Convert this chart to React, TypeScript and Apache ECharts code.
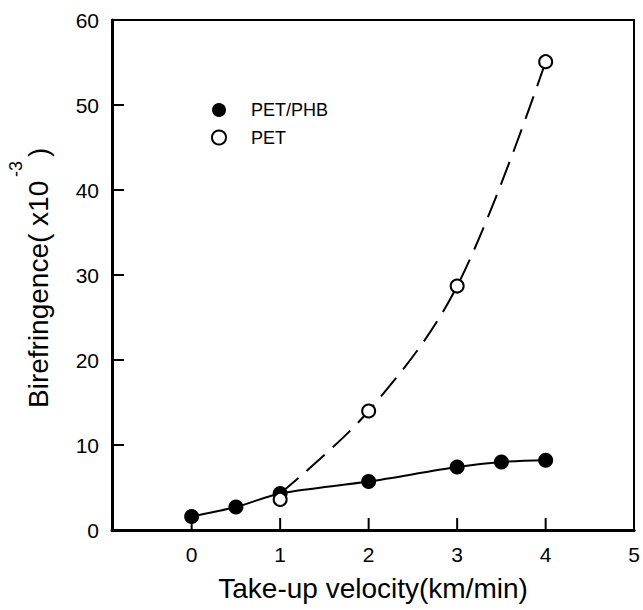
import React, { useEffect, useRef } from "react";
import * as echarts from "echarts";

const FONT = "'Liberation Sans', Arial, Helvetica, sans-serif";

const phbVelocity = [0, 0.5, 1, 2, 3, 3.5, 4];
const phbBiref = [1.6, 2.7, 4.3, 5.7, 7.4, 8.0, 8.2];

const petVelocity = [1, 2, 3, 4];
const petBiref = [3.6, 14.0, 28.7, 55.1];

// dashed fitted curve for PET (starts from the blend point at 1 km/min)
const petFitVelocity = [1, 2, 3, 4];
const petFitBiref = [4.3, 14.0, 28.7, 55.1];

const xLabelValues = [0, 1, 2, 3, 4, 5];
const xTickValues = [0, 1, 2, 3, 4];
const yTickValues = [10, 20, 30, 40, 50];

const pairs = (xs: number[], ys: number[]) => xs.map((x, i) => [x, ys[i]]);

const TICK_LEN = 12;

export default function App() {
  const ref = useRef<HTMLDivElement>(null);
  useEffect(() => {
    if (!ref.current) return;
    const chart = echarts.init(ref.current, undefined, { renderer: "svg" });
    chart.setOption({
      animation: false,
      backgroundColor: "#ffffff",
      grid: {
        left: 112,
        right: 8,
        top: 20,
        bottom: 80,
        show: false,
      },
      legend: {
        data: ["PET/PHB", "PET"],
        orient: "vertical",
        left: 206,
        top: 96,
        icon: "circle",
        itemWidth: 54,
        itemHeight: 14,
        itemGap: 9.5,
        inactiveColor: "#000",
        textStyle: { fontFamily: FONT, fontSize: 18, color: "#000", lineHeight: 14 },
      },
      xAxis: [
        {
          type: "value",
          position: "bottom",
          min: -0.9,
          max: 5,
          name: "Take-up velocity(km/min)",
          nameLocation: "middle",
          nameGap: 44,
          nameTextStyle: { fontFamily: FONT, fontSize: 28, color: "#000" },
          axisLine: { show: true, onZero: false, lineStyle: { color: "#000", width: 3 } },
          axisTick: { show: false },
          axisLabel: {
            customValues: xLabelValues,
            fontFamily: FONT,
            fontSize: 21,
            color: "#000",
            margin: 14,
          },
          splitLine: { show: false },
          z: 5,
        },
        {
          type: "value",
          position: "top",
          min: -0.9,
          max: 5,
          axisLine: { show: true, onZero: false, lineStyle: { color: "#000", width: 2 } },
          axisTick: { show: false },
          axisLabel: { show: false },
          splitLine: { show: false },
        },
      ],
      yAxis: [
        {
          type: "value",
          position: "left",
          min: 0,
          max: 60,
          interval: 10,
          axisLine: { show: true, onZero: false, lineStyle: { color: "#000", width: 3 } },
          axisTick: { show: false },
          axisLabel: { fontFamily: FONT, fontSize: 21, color: "#000", margin: 13 },
          splitLine: { show: false },
          z: 5,
        },
        {
          type: "value",
          position: "right",
          min: 0,
          max: 60,
          interval: 10,
          axisLine: { show: true, onZero: false, lineStyle: { color: "#000", width: 2 } },
          axisTick: { show: false },
          axisLabel: { show: false },
          splitLine: { show: false },
        },
      ],
      graphic: [
        {
          type: "text",
          x: 38,
          y: 408,
          rotation: Math.PI / 2,
          style: {
            text: "Birefringence( x10",
            font: `28px ${FONT}`,
            fill: "#000",
            textAlign: "left",
            textVerticalAlign: "middle",
            align: "left",
            verticalAlign: "middle",
          },
        },
        {
          type: "text",
          x: 16,
          y: 177,
          rotation: Math.PI / 2,
          style: {
            text: "-3",
            font: `18px ${FONT}`,
            fill: "#000",
            textAlign: "left",
            textVerticalAlign: "middle",
            align: "left",
            verticalAlign: "middle",
          },
        },
        {
          type: "text",
          x: 38,
          y: 157,
          rotation: Math.PI / 2,
          style: {
            text: ")",
            font: `28px ${FONT}`,
            fill: "#000",
            textAlign: "left",
            textVerticalAlign: "middle",
            align: "left",
            verticalAlign: "middle",
          },
        },
      ],
      series: [
        {
          name: "y ticks",
          type: "custom",
          coordinateSystem: "cartesian2d",
          xAxisIndex: 0,
          yAxisIndex: 0,
          silent: true,
          clip: false,
          data: yTickValues.map((v) => [0, v]),
          renderItem: (params: any, api: any) => {
            const y = api.coord([0, api.value(1)])[1];
            const x0 = params.coordSys.x;
            return {
              type: "line",
              shape: { x1: x0, y1: y, x2: x0 + TICK_LEN, y2: y },
              style: { stroke: "#000", lineWidth: 2 },
            };
          },
          z: 5,
        },
        {
          name: "x ticks",
          type: "custom",
          coordinateSystem: "cartesian2d",
          xAxisIndex: 0,
          yAxisIndex: 0,
          silent: true,
          clip: false,
          data: xTickValues.map((v) => [v, 0]),
          renderItem: (params: any, api: any) => {
            const x = api.coord([api.value(0), 0])[0];
            const y0 = params.coordSys.y + params.coordSys.height;
            return {
              type: "line",
              shape: { x1: x, y1: y0, x2: x, y2: y0 - TICK_LEN },
              style: { stroke: "#000", lineWidth: 2 },
            };
          },
          z: 5,
        },
        {
          name: "PET/PHB fit",
          type: "line",
          data: pairs(phbVelocity, phbBiref),
          smooth: 0.3,
          showSymbol: false,
          lineStyle: { color: "#000", width: 2 },
          z: 2,
        },
        {
          name: "PET fit",
          type: "line",
          data: pairs(petFitVelocity, petFitBiref),
          smooth: 0.35,
          showSymbol: false,
          lineStyle: { color: "#000", width: 2, type: [24, 11] },
          z: 2,
        },
        {
          name: "PET/PHB",
          type: "scatter",
          data: pairs(phbVelocity, phbBiref),
          symbol: "circle",
          symbolSize: 15,
          itemStyle: { color: "#000", borderColor: "#000", borderWidth: 0, opacity: 1 },
          z: 3,
        },
        {
          name: "PET",
          type: "scatter",
          data: pairs(petVelocity, petBiref),
          symbol: "circle",
          symbolSize: 13,
          itemStyle: { color: "#fff", borderColor: "#000", borderWidth: 2, opacity: 1 },
          z: 4,
        },
      ],
    });
    return () => chart.dispose();
  }, []);
  return <div ref={ref} style={{ width: 643, height: 610, position: "absolute", left: 0, top: 0 }} />;
}
